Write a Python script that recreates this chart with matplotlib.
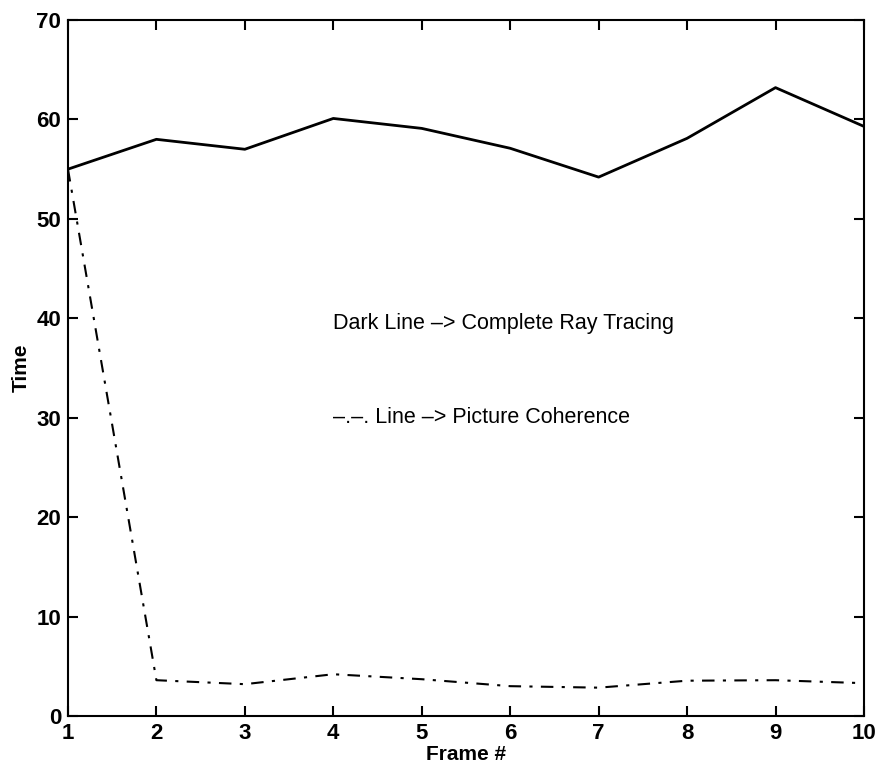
import matplotlib.pyplot as plt

plt.rcParams['font.family'] = ['Liberation Sans', 'DejaVu Sans']

# dados
frames = [1, 2, 3, 4, 5, 6, 7, 8, 9, 10]
ray_tracing = [55.0, 58.0, 57.0, 60.1, 59.1, 57.1, 54.2, 58.1, 63.2, 59.3]
coherence = [55.0, 3.6, 3.2, 4.2, 3.7, 3.0, 2.85, 3.55, 3.6, 3.3]

fig = plt.figure(figsize=(8.78, 7.67), dpi=100)
ax = fig.add_axes([0.0774, 0.0665, 0.9066, 0.9074])

ax.plot(frames, ray_tracing, color='black', linewidth=2.0)
ax.plot(frames, coherence, color='black', linewidth=1.5, linestyle=(0, (6, 4, 1.5, 4)))

ax.set_xlim(1, 10)
ax.set_ylim(0, 70)
ax.set_xticks(frames)
ax.set_yticks(range(0, 71, 10))
ax.tick_params(direction='in', length=7, width=1.5, labelsize=16,
               top=True, right=True, pad=5)
for lbl in ax.get_xticklabels() + ax.get_yticklabels():
    lbl.set_fontweight('bold')
for s in ax.spines.values():
    s.set_linewidth(1.5)

ax.set_xlabel('Frame #', fontsize=15, fontweight='bold', labelpad=1)
ax.set_ylabel('Time', fontsize=15, fontweight='bold', labelpad=4)

ax.text(4.0, 39.5, 'Dark Line \u2013> Complete Ray Tracing', fontsize=15.5,
        va='center', ha='left')
ax.text(4.0, 30.0, '\u2013.\u2013. Line \u2013> Picture Coherence', fontsize=15.5,
        va='center', ha='left')

plt.savefig('out.png', dpi=100)
